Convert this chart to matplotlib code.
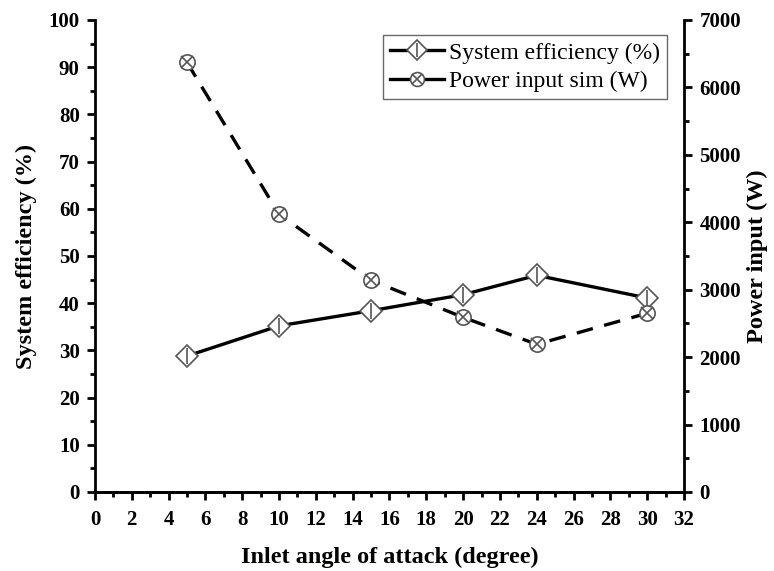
import numpy as np
import matplotlib
matplotlib.use("Agg")
import matplotlib.pyplot as plt
from matplotlib.ticker import MultipleLocator
from matplotlib.lines import Line2D

angle = [5, 10, 15, 20, 24, 30]
efficiency = [28.8, 35.2, 38.4, 41.8, 45.9, 41.1]
power = [6370, 4120, 3140, 2590, 2190, 2650]

plt.rcParams["font.family"] = ["Liberation Serif", "DejaVu Serif"]

fig = plt.figure(figsize=(7.74, 5.71), dpi=100)
ax1 = fig.add_axes([0.1227, 0.1384, 0.761, 0.8266])
ax2 = ax1.twinx()

edge = "#555555"
# 效率曲線（實線 + 菱形）
ax1.plot(angle, efficiency, color="black", lw=2.4, zorder=2)
ax1.plot(angle, efficiency, ls="none", marker="D", ms=11, mfc="white",
         mec=edge, mew=1.2, zorder=3)
ax1.plot(angle, efficiency, ls="none", marker="|", ms=11, mec=edge, mew=1.2, zorder=4)

# 功率曲線（虛線 + 圓叉）
ax2.plot(angle, power, color="black", lw=2.4, ls=(0, (5, 3.5)), zorder=2)
ax2.plot(angle, power, ls="none", marker="o", ms=11, mfc="white",
         mec=edge, mew=1.2, zorder=3)
ax2.plot(angle, power, ls="none", marker="x", ms=8, mec=edge, mew=1.2, zorder=4)

ax1.set_xlim(0, 32)
ax1.set_ylim(0, 100)
ax2.set_ylim(0, 7000)
ax1.xaxis.set_major_locator(MultipleLocator(2))
ax1.xaxis.set_minor_locator(MultipleLocator(1))
ax1.yaxis.set_major_locator(MultipleLocator(10))
ax1.yaxis.set_minor_locator(MultipleLocator(5))
ax2.yaxis.set_major_locator(MultipleLocator(1000))
ax2.yaxis.set_minor_locator(MultipleLocator(500))

for ax in (ax1, ax2):
    ax.spines["top"].set_visible(False)
    for s in ("left", "right", "bottom"):
        ax.spines[s].set_linewidth(2)
    ax.tick_params(which="major", direction="out", length=6, width=2,
                   labelsize=15, pad=5)
    ax.tick_params(which="minor", direction="out", length=3.5, width=2)
    for lab in ax.get_xticklabels() + ax.get_yticklabels():
        lab.set_fontweight("bold")
ax1.tick_params(axis="x", which="major", pad=7)
ax2.spines["left"].set_visible(False)
ax1.spines["right"].set_visible(False)

ax1.set_xlabel("Inlet angle of attack (degree)", fontsize=17.5,
               fontweight="bold", labelpad=12)
ax1.set_ylabel("System efficiency (%)", fontsize=17.5, fontweight="bold",
               labelpad=8)
ax2.set_ylabel("Power input (W)", fontsize=17.5, fontweight="bold",
               labelpad=4)

handles = [
    (Line2D([], [], color="black", lw=2.4),
     Line2D([], [], ls="none", marker="D", ms=10, mfc="white", mec=edge, mew=1.2),
     Line2D([], [], ls="none", marker="|", ms=10, mec=edge, mew=1.2)),
    (Line2D([], [], color="black", lw=2.4),
     Line2D([], [], ls="none", marker="o", ms=10, mfc="white", mec=edge, mew=1.2),
     Line2D([], [], ls="none", marker="x", ms=7, mec=edge, mew=1.2)),
]
leg = ax2.legend(handles, ["System efficiency (%)", "Power input sim (W)"],
                 loc="upper right", bbox_to_anchor=(0.971, 0.968),
                 fontsize=17, frameon=True, fancybox=False, edgecolor="#444444",
                 handlelength=2.3, handletextpad=0.2, borderpad=0.3,
                 labelspacing=0.3, borderaxespad=0)
leg.get_frame().set_linewidth(1.0)

fig.savefig("out.png", dpi=100)
